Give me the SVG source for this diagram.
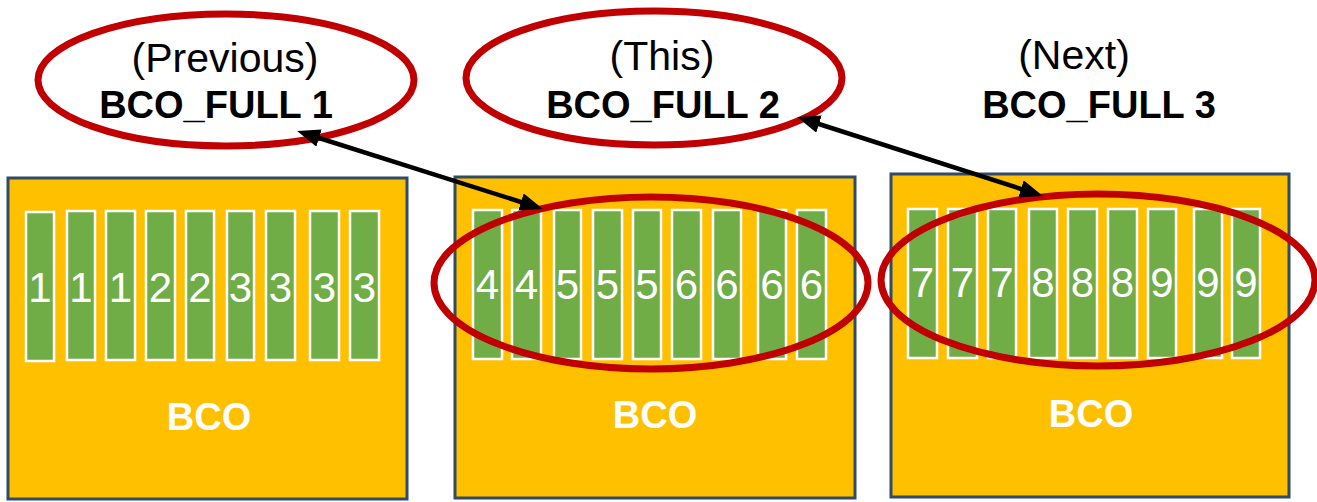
<svg xmlns="http://www.w3.org/2000/svg" width="1317" height="502" viewBox="0 0 1317 502">
<style>
.box{fill:#FFC000;stroke:#2F4B66;stroke-width:3}
.bar{fill:#70AD47;stroke:#FFFFFF;stroke-width:2.5}
.dig{font-family:"Liberation Sans",Arial,sans-serif;font-size:42px;fill:#FFFFFF;text-anchor:middle}
.bco{font-family:"Liberation Sans",Arial,sans-serif;font-size:38px;font-weight:bold;fill:#FFFFFF;text-anchor:middle}
.ring{fill:none;stroke:#C00000;stroke-width:7}
.t1{font-family:"Liberation Sans",Arial,sans-serif;font-size:41px;fill:#000000;text-anchor:middle}
.t2{font-family:"Liberation Sans",Arial,sans-serif;font-size:38px;font-weight:bold;fill:#000000;text-anchor:middle}
.arr{stroke:#000000;stroke-width:4.5;fill:none;marker-start:url(#ah);marker-end:url(#ah)}
</style>
<defs>
<marker id="ah" markerUnits="userSpaceOnUse" markerWidth="24" markerHeight="18" refX="10" refY="9" orient="auto-start-reverse" viewBox="0 0 24 18">
<path d="M0,0 L23,9 L0,18 z" fill="#000000"/>
</marker>
</defs>
<rect width="1317" height="502" fill="#FFFFFF"/>

<g id="bco1">
<rect class="box" x="8" y="178" width="399" height="321"/>
<rect class="bar" x="26" y="212" width="28" height="149"/>
<rect class="bar" x="67" y="211" width="28" height="149"/>
<rect class="bar" x="106" y="211" width="29" height="149"/>
<rect class="bar" x="146" y="211" width="29" height="149"/>
<rect class="bar" x="186" y="211" width="28" height="149"/>
<rect class="bar" x="227" y="211" width="27" height="149"/>
<rect class="bar" x="266" y="211" width="29" height="149"/>
<rect class="bar" x="310" y="211" width="29" height="149"/>
<rect class="bar" x="350" y="211" width="29" height="149"/>
<text class="dig" x="40" y="302">1</text>
<text class="dig" x="81" y="302">1</text>
<text class="dig" x="120.5" y="302">1</text>
<text class="dig" x="160.5" y="302">2</text>
<text class="dig" x="200" y="302">2</text>
<text class="dig" x="240.5" y="302">3</text>
<text class="dig" x="280.5" y="302">3</text>
<text class="dig" x="324.5" y="302">3</text>
<text class="dig" x="364.5" y="302">3</text>
<text class="bco" x="209" y="430">BCO</text>
</g>

<g id="bco2">
<rect class="box" x="455" y="177" width="400" height="321"/>
<rect class="bar" x="473" y="210" width="29" height="149"/>
<rect class="bar" x="512" y="210" width="29" height="149"/>
<rect class="bar" x="554" y="210" width="27" height="149"/>
<rect class="bar" x="593" y="210" width="29" height="149"/>
<rect class="bar" x="633" y="210" width="28" height="149"/>
<rect class="bar" x="672" y="210" width="29" height="149"/>
<rect class="bar" x="713" y="210" width="28" height="149"/>
<rect class="bar" x="758" y="210" width="28" height="149"/>
<rect class="bar" x="797" y="210" width="29" height="149"/>
<text class="dig" x="487.5" y="299">4</text>
<text class="dig" x="526.5" y="299">4</text>
<text class="dig" x="567.5" y="299">5</text>
<text class="dig" x="607.5" y="299">5</text>
<text class="dig" x="647" y="299">5</text>
<text class="dig" x="686.5" y="299">6</text>
<text class="dig" x="727" y="299">6</text>
<text class="dig" x="772" y="299">6</text>
<text class="dig" x="811.5" y="299">6</text>
<text class="bco" x="655" y="428">BCO</text>
<ellipse class="ring" cx="651" cy="283" rx="217" ry="86"/>
</g>

<g id="bco3">
<rect class="box" x="891" y="174" width="398" height="323"/>
<rect class="bar" x="908" y="209" width="29" height="149"/>
<rect class="bar" x="948" y="209" width="29" height="149"/>
<rect class="bar" x="988" y="209" width="28" height="149"/>
<rect class="bar" x="1029" y="209" width="28" height="149"/>
<rect class="bar" x="1068" y="209" width="29" height="149"/>
<rect class="bar" x="1108" y="209" width="29" height="149"/>
<rect class="bar" x="1148" y="209" width="28" height="149"/>
<rect class="bar" x="1194" y="209" width="28" height="149"/>
<rect class="bar" x="1232" y="209" width="28" height="149"/>
<text class="dig" x="922.5" y="297">7</text>
<text class="dig" x="962.5" y="297">7</text>
<text class="dig" x="1002" y="297">7</text>
<text class="dig" x="1043" y="297">8</text>
<text class="dig" x="1082.5" y="297">8</text>
<text class="dig" x="1122.5" y="297">8</text>
<text class="dig" x="1162" y="297">9</text>
<text class="dig" x="1208" y="297">9</text>
<text class="dig" x="1246" y="297">9</text>
<text class="bco" x="1091" y="427">BCO</text>
<ellipse class="ring" cx="1098" cy="280" rx="217" ry="86"/>
</g>

<g id="full1">
<ellipse class="ring" cx="226" cy="80" rx="188" ry="66"/>
<text class="t1" x="225" y="72">(Previous)</text>
<text class="t2" x="216" y="118">BCO_FULL 1</text>
</g>

<g id="full2">
<ellipse class="ring" cx="654" cy="78" rx="188" ry="67"/>
<text class="t1" x="662" y="70">(This)</text>
<text class="t2" x="663" y="118">BCO_FULL 2</text>
</g>

<g id="full3">
<text class="t1" x="1074" y="69">(Next)</text>
<text class="t2" x="1099" y="118">BCO_FULL 3</text>
</g>

<g id="connectors">
<line class="arr" x1="309.5" y1="135" x2="530.5" y2="205"/>
<line class="arr" x1="809.5" y1="121" x2="1030.5" y2="192"/>
</g>
</svg>
